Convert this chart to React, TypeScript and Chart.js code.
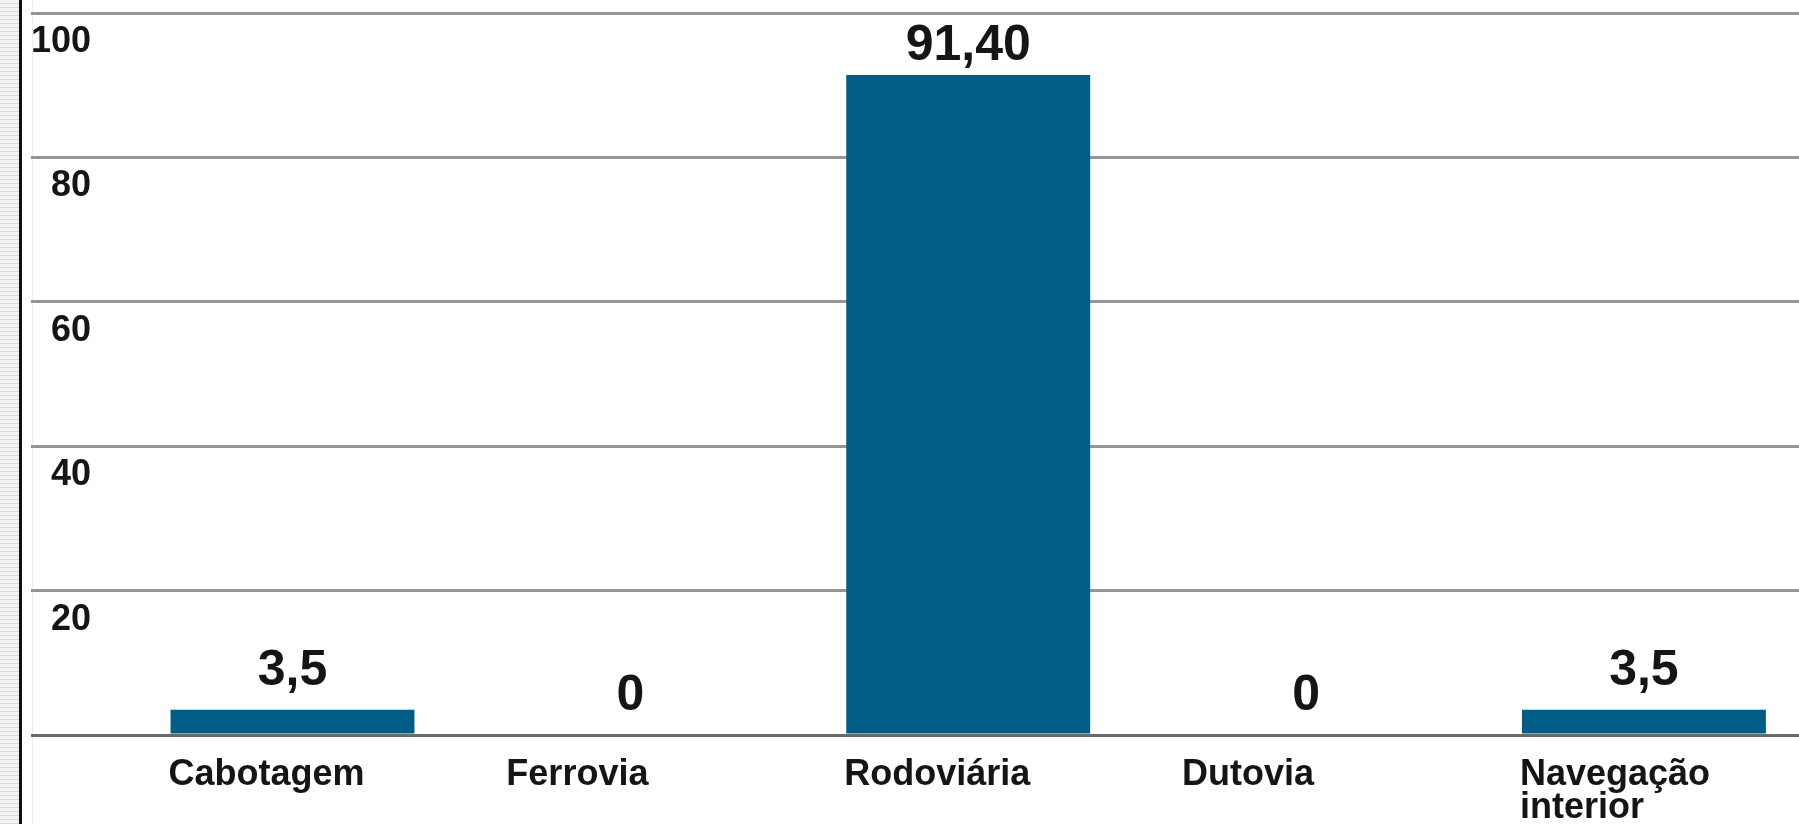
import React, { useEffect, useRef } from 'react';
import { Chart, registerables } from 'chart.js';

Chart.register(...registerables);

// ---- data ----
const categories: (string | string[])[] = ['Cabotagem', 'Ferrovia', 'Rodoviária', 'Dutovia', ['Navegação', 'interior']];
const shares: number[] = [3.5, 0, 91.4, 0, 3.5];
const valueLabels: string[] = ['3,5', '0', '91,40', '0', '3,5'];
const yTickValues: number[] = [0, 20, 40, 60, 80, 100];

const FONT = "'Liberation Sans', Arial, sans-serif";
const TEXT = '#151515';
const BAR = '#005e86';

const valueLabelPlugin = {
  id: 'valueLabels',
  afterDatasetsDraw(chart: any) {
    const { ctx, chartArea } = chart;
    const meta = chart.getDatasetMeta(0);
    ctx.save();
    ctx.font = `bold 50px ${FONT}`;
    ctx.fillStyle = TEXT;
    ctx.textAlign = 'center';
    ctx.textBaseline = 'alphabetic';
    meta.data.forEach((bar: any, i: number) => {
      const y = Math.max(bar.y - 25, chartArea.top + 47);
      ctx.fillText(valueLabels[i], bar.x, y);
    });
    ctx.restore();
  },
};

export default function App() {
  const ref = useRef<HTMLCanvasElement | null>(null);

  useEffect(() => {
    if (!ref.current) return;
    const chart = new Chart(ref.current, {
      type: 'bar',
      data: {
        datasets: [
          {
            data: shares.map((v, i) => ({ x: i, y: v })),
            backgroundColor: BAR,
            borderWidth: 0,
            barPercentage: 0.722,
            categoryPercentage: 1,
          } as any,
        ],
      },
      options: {
        responsive: false,
        maintainAspectRatio: false,
        animation: false,
        layout: { padding: { left: 31, top: 13, right: 0, bottom: 0 } },
        plugins: {
          legend: { display: false },
          tooltip: { enabled: false },
        },
        scales: {
          x: {
            type: 'linear',
            offset: false,
            min: -0.774,
            max: 4.459,
            grid: { display: false, drawTicks: false, offset: false },
            border: { display: false },
            afterBuildTicks: (s: any) => {
              s.ticks = categories.map((_, i) => ({ value: i }));
            },
            afterFit: (s: any) => {
              s.height = 89;
              s.paddingLeft = 0;
              s.paddingRight = 0;
            },
            ticks: {
              callback: (v: any) => categories[v as number],
              align: 'start',
              labelOffset: -124,
              padding: 24,
              maxRotation: 0,
              minRotation: 0,
              autoSkip: false,
              color: TEXT,
              font: { family: FONT, weight: 'bold', size: 36, lineHeight: 0.9 },
            },
          } as any,
          y: {
            min: 0,
            max: 100,
            afterBuildTicks: (s: any) => {
              s.ticks = yTickValues.map((v) => ({ value: v }));
            },
            afterFit: (s: any) => {
              s.width = 0;
              s.paddingTop = 0;
              s.paddingBottom = 0;
            },
            grid: {
              drawTicks: false,
              lineWidth: 3,
              color: (c: any) => (c.tick && c.tick.value === 0 ? '#6a6a6a' : '#969696'),
            },
            border: { display: false },
            ticks: {
              mirror: true,
              crossAlign: 'far',
              padding: 0,
              labelOffset: 29,
              callback: (v: any) => (v === 0 ? '' : String(v)),
              color: TEXT,
              font: { family: FONT, weight: 'bold', size: 36 },
            },
          } as any,
        },
      },
      plugins: [valueLabelPlugin],
    } as any);
    return () => chart.destroy();
  }, []);

  return (
    <div
      style={{
        position: 'absolute',
        left: 0,
        top: 0,
        width: 1799,
        height: 824,
        background: '#ffffff',
        overflow: 'hidden',
      }}
    >
      <div
        style={{
          position: 'absolute',
          left: 0,
          top: 0,
          width: 19,
          height: 824,
          background: 'repeating-linear-gradient(180deg, #f3f3f3 0px, #f3f3f3 3px, #d9d9d9 3px, #d9d9d9 4px)',
        }}
      />
      <div style={{ position: 'absolute', left: 19, top: 0, width: 3, height: 824, background: '#111' }} />
      <div style={{ position: 'absolute', left: 32, top: 0, width: 1, height: 824, background: '#ececec' }} />
      <canvas
        ref={ref}
        width={1799}
        height={824}
        style={{ position: 'absolute', left: 0, top: 0, width: 1799, height: 824, display: 'block' }}
      />
    </div>
  );
}
